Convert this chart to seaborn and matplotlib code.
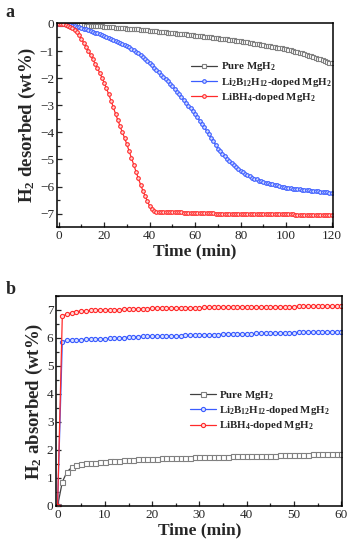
import numpy as np
import pandas as pd
import matplotlib
matplotlib.use("Agg")
import matplotlib.pyplot as plt
import seaborn as sns
from matplotlib.ticker import MultipleLocator

# ---------------- data: panel a (desorption, 1-min steps, 0..120 min) ----------------
time_a = list(range(0, 121))
pure_des = [0, -0.005, -0.01, -0.015, -0.02, -0.025, -0.03, -0.035, -0.04, -0.045, -0.05,
            -0.055, -0.06, -0.065, -0.07, -0.075, -0.08, -0.085, -0.09, -0.095, -0.10,
            -0.11, -0.115, -0.12, -0.13, -0.135, -0.14, -0.15, -0.155, -0.16, -0.17,
            -0.175, -0.18, -0.19, -0.20, -0.205, -0.21, -0.22, -0.23, -0.24, -0.25,
            -0.26, -0.27, -0.28, -0.29, -0.30, -0.305, -0.31, -0.32, -0.33, -0.34,
            -0.35, -0.355, -0.36, -0.37, -0.38, -0.39, -0.40, -0.41, -0.42, -0.43,
            -0.44, -0.45, -0.46, -0.47, -0.48, -0.49, -0.50, -0.51, -0.52, -0.53,
            -0.54, -0.55, -0.56, -0.57, -0.585, -0.595, -0.605, -0.615, -0.63, -0.64,
            -0.655, -0.67, -0.68, -0.695, -0.71, -0.725, -0.74, -0.755, -0.77, -0.785,
            -0.80, -0.815, -0.83, -0.845, -0.86, -0.875, -0.89, -0.905, -0.92, -0.94,
            -0.96, -0.98, -1.00, -1.02, -1.05, -1.07, -1.09, -1.12, -1.14, -1.17,
            -1.19, -1.22, -1.25, -1.28, -1.31, -1.34, -1.37, -1.40, -1.43, -1.46]
li2b12_des = [0, -0.005, -0.01, -0.02, -0.03, -0.05, -0.07, -0.09, -0.11, -0.13, -0.15,
              -0.18, -0.20, -0.23, -0.26, -0.29, -0.32, -0.35, -0.38, -0.41, -0.45,
              -0.49, -0.52, -0.56, -0.60, -0.63, -0.67, -0.71, -0.75, -0.78, -0.82,
              -0.87, -0.92, -0.97, -1.03, -1.09, -1.15, -1.22, -1.29, -1.36, -1.43,
              -1.52, -1.61, -1.70, -1.78, -1.87, -1.95, -2.04, -2.12, -2.20, -2.29,
              -2.39, -2.50, -2.60, -2.71, -2.81, -2.92, -3.02, -3.12, -3.23, -3.33,
              -3.45, -3.57, -3.69, -3.81, -3.94, -4.07, -4.20, -4.33, -4.46, -4.60,
              -4.70, -4.80, -4.89, -4.98, -5.06, -5.14, -5.21, -5.28, -5.35, -5.41,
              -5.47, -5.53, -5.58, -5.63, -5.67, -5.71, -5.74, -5.78, -5.81, -5.84,
              -5.86, -5.88, -5.90, -5.92, -5.94, -5.96, -5.98, -6.00, -6.03, -6.05,
              -6.06, -6.07, -6.08, -6.09, -6.10, -6.11, -6.12, -6.13, -6.13, -6.14,
              -6.15, -6.16, -6.17, -6.18, -6.19, -6.20, -6.21, -6.22, -6.23, -6.24]
libh4_des = [0, 0, -0.01, -0.03, -0.06, -0.10, -0.15, -0.22, -0.30, -0.42, -0.55,
             -0.70, -0.85, -1.00, -1.15, -1.30, -1.47, -1.63, -1.80, -1.98, -2.17,
             -2.38, -2.60, -2.83, -3.07, -3.32, -3.55, -3.78, -4.00, -4.22, -4.45,
             -4.70, -4.95, -5.20, -5.45, -5.70, -5.93, -6.15, -6.35, -6.55, -6.72,
             -6.84, -6.90, -6.93, -6.94, -6.94, -6.94, -6.94, -6.95, -6.95, -6.95,
             -6.95, -6.95, -6.95, -6.95, -6.96, -6.96, -6.96, -6.96, -6.97, -6.97,
             -6.98, -6.98, -6.98, -6.98, -6.99, -6.99, -6.99, -6.99, -7.00, -7.00,
             -7.00, -7.00, -7.00, -7.00, -7.00, -7.00, -7.00, -7.01, -7.01, -7.01,
             -7.01, -7.01, -7.01, -7.01, -7.01, -7.01, -7.01, -7.01, -7.01, -7.01,
             -7.01, -7.01, -7.02, -7.02, -7.02, -7.02, -7.02, -7.02, -7.02, -7.02,
             -7.02, -7.02, -7.02, -7.04, -7.04, -7.04, -7.04, -7.04, -7.04, -7.04,
             -7.04, -7.05, -7.05, -7.05, -7.05, -7.05, -7.05, -7.05, -7.05, -7.05]

# ---------------- data: panel b (absorption, 1-min steps, 0..60 min) ----------------
time_b = list(range(0, 61))
pure_abs = [0, 0.86, 1.22, 1.38, 1.45, 1.50, 1.53, 1.55, 1.55, 1.56, 1.58,
            1.59, 1.60, 1.62, 1.63, 1.64, 1.65, 1.66, 1.67, 1.67, 1.68,
            1.69, 1.70, 1.70, 1.71, 1.72, 1.72, 1.73, 1.73, 1.74, 1.74,
            1.74, 1.75, 1.75, 1.76, 1.76, 1.76, 1.77, 1.77, 1.78, 1.78,
            1.78, 1.79, 1.79, 1.80, 1.80, 1.80, 1.81, 1.81, 1.82, 1.82,
            1.82, 1.83, 1.83, 1.84, 1.84, 1.84, 1.84, 1.85, 1.85, 1.85]
li2b12_abs = [0, 5.87, 5.91, 5.93, 5.94, 5.94, 5.95, 5.96, 5.97, 5.97, 5.97,
              5.98, 5.98, 5.99, 6.01, 6.03, 6.04, 6.05, 6.06, 6.06, 6.07,
              6.07, 6.07, 6.07, 6.08, 6.08, 6.08, 6.09, 6.09, 6.10, 6.10,
              6.11, 6.11, 6.12, 6.12, 6.13, 6.13, 6.14, 6.14, 6.15, 6.15,
              6.15, 6.16, 6.16, 6.17, 6.17, 6.18, 6.18, 6.19, 6.19, 6.19,
              6.20, 6.20, 6.20, 6.20, 6.20, 6.21, 6.21, 6.21, 6.21, 6.21]
libh4_abs = [0, 6.78, 6.85, 6.90, 6.94, 6.96, 6.97, 6.98, 6.99, 6.99, 7.00,
             7.00, 7.01, 7.01, 7.02, 7.03, 7.04, 7.04, 7.05, 7.05, 7.06,
             7.07, 7.07, 7.07, 7.07, 7.08, 7.08, 7.08, 7.08, 7.08, 7.08,
             7.09, 7.09, 7.09, 7.09, 7.09, 7.10, 7.10, 7.10, 7.11, 7.11,
             7.11, 7.11, 7.11, 7.11, 7.11, 7.12, 7.12, 7.12, 7.12, 7.12,
             7.13, 7.13, 7.13, 7.13, 7.14, 7.14, 7.14, 7.14, 7.14, 7.14]

labels = [r"Pure MgH$_\mathbf{2}$",
          r"Li$_\mathbf{2}$B$_\mathbf{12}$H$_\mathbf{12}$-doped MgH$_\mathbf{2}$",
          r"LiBH$_\mathbf{4}$-doped MgH$_\mathbf{2}$"]

sns.set_theme(style="ticks")
plt.rcParams["font.family"] = ["Liberation Serif", "DejaVu Serif"]
plt.rcParams["font.weight"] = "bold"
plt.rcParams["mathtext.fontset"] = "custom"
plt.rcParams["mathtext.rm"] = "Liberation Serif"
plt.rcParams["mathtext.bf"] = "Liberation Serif:bold"
plt.rcParams["mathtext.it"] = "Liberation Serif:italic"

fig = plt.figure(figsize=(3.51, 5.50), dpi=100)
ax1 = fig.add_axes([0.162, 0.587, 0.786, 0.372])
ax2 = fig.add_axes([0.160, 0.080, 0.815, 0.382])

df_a = pd.DataFrame({"t": time_a, "pure": pure_des, "li2b12": li2b12_des, "libh4": libh4_des})
df_b = pd.DataFrame({"t": time_b, "pure": pure_abs, "li2b12": li2b12_abs, "libh4": libh4_abs})

styles = [
    ("pure", "#404040", "#808080", "s", "white"),
    ("li2b12", "#3a5cff", "#3a5cff", "o", "#d9e0ff"),
    ("libh4", "#ff2a2a", "#ff2a2a", "o", "#ffd9d9"),
]

for ax, df, ms_s, ms_o in [(ax1, df_a, 2.8, 2.6), (ax2, df_b, 3.6, 3.0)]:
    for (key, lc, mc, mk, fc), lab in zip(styles, labels):
        sns.lineplot(data=df, x="t", y=key, ax=ax, color=lc, lw=0.9,
                     marker=mk, markersize=ms_s if mk == "s" else ms_o,
                     markerfacecolor=fc, markeredgecolor=mc, markeredgewidth=0.8,
                     label=lab)
    for side in ["top", "right", "left", "bottom"]:
        ax.spines[side].set_visible(True)
        ax.spines[side].set_linewidth(1.1)
        ax.spines[side].set_color("black")
    ax.tick_params(which="both", direction="in", top=False, right=False,
                   labelsize=9.5, width=0.9, pad=2)
    ax.tick_params(which="major", length=3.5)
    ax.tick_params(which="minor", length=2)
    for t in ax.get_xticklabels() + ax.get_yticklabels():
        t.set_fontweight("normal")
    ax.set_xlabel("Time (min)", fontsize=12.5, fontweight="bold", labelpad=1)

# panel a
ax1.set_xlim(-0.8, 120.5)
ax1.set_ylim(-7.5, 0.05)
ax1.xaxis.set_major_locator(MultipleLocator(20))
ax1.xaxis.set_minor_locator(MultipleLocator(10))
ax1.yaxis.set_major_locator(MultipleLocator(1))
ax1.yaxis.set_minor_locator(MultipleLocator(0.5))
ax1.set_ylabel(r"H$_\mathbf{2}$ desorbed (wt%)", fontsize=13.5, fontweight="bold", labelpad=1)
leg1 = ax1.legend(loc="upper left", bbox_to_anchor=(0.488, 0.815), frameon=False,
                  fontsize=7.8, handlelength=2.4, handletextpad=0.3, labelspacing=0.2,
                  borderaxespad=0, borderpad=0)

# panel b
ax2.set_xlim(-0.3, 60.2)
ax2.set_ylim(0, 7.5)
ax2.xaxis.set_major_locator(MultipleLocator(10))
ax2.xaxis.set_minor_locator(MultipleLocator(5))
ax2.yaxis.set_major_locator(MultipleLocator(1))
ax2.yaxis.set_minor_locator(MultipleLocator(0.5))
ax2.set_ylabel(r"H$_\mathbf{2}$ absorbed (wt%)", fontsize=13.5, fontweight="bold", labelpad=1)
leg2 = ax2.legend(loc="upper left", bbox_to_anchor=(0.467, 0.557), frameon=False,
                  fontsize=7.8, handlelength=2.4, handletextpad=0.3, labelspacing=0.2,
                  borderaxespad=0, borderpad=0)

for leg in (leg1, leg2):
    for t in leg.get_texts():
        t.set_fontweight("bold")

fig.text(0.015, 0.978, "a", fontsize=13, fontweight="bold", va="center", ha="left")
fig.text(0.015, 0.473, "b", fontsize=13, fontweight="bold", va="center", ha="left")

fig.savefig("out.png", dpi=100)
